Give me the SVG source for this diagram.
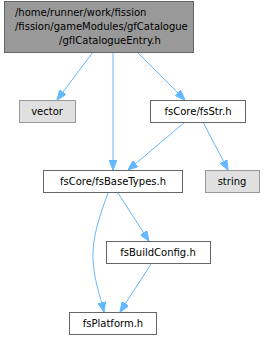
<svg xmlns="http://www.w3.org/2000/svg" width="265" height="340" viewBox="0 0 265 340">
<style>
text{font-family:"DejaVu Sans",sans-serif;font-size:10px;fill:#000}
.m{text-anchor:middle}
.top{fill:#999999;stroke:#666666}
.grey{fill:#e0e0e0;stroke:#999999}
.white{fill:#ffffff;stroke:#666666}
.e{fill:none;stroke:#63b8ff;stroke-width:1}
</style>
<defs>
<marker id="ah" markerWidth="10" markerHeight="8" refX="10" refY="4" orient="auto" markerUnits="userSpaceOnUse">
<path d="M0,0 L10,4 L0,8 Z" fill="#63b8ff" stroke="#63b8ff"/>
</marker>
</defs>
<rect width="265" height="340" fill="#ffffff"/>
<g id="connectors">
<path class="e" d="M93,52 L57,100" marker-end="url(#ah)"/>
<path class="e" d="M113,52 L113,170" marker-end="url(#ah)"/>
<path class="e" d="M137,52 L185,100" marker-end="url(#ah)"/>
<path class="e" d="M185,122 L128,170" marker-end="url(#ah)"/>
<path class="e" d="M203,122 L228,170" marker-end="url(#ah)"/>
<path class="e" d="M118,193 L149,241" marker-end="url(#ah)"/>
<path class="e" d="M108,193 C98,220 92,240 93,260 C94,280 100,295 104,312" marker-end="url(#ah)"/>
<path class="e" d="M151,264 L120,312" marker-end="url(#ah)"/>
</g>
<g id="node1">
<rect class="top" x="4.5" y="1.5" width="189" height="51"/>
<text x="15" y="16">/home/runner/work/fission</text>
<text x="15" y="30">/fission/gameModules/gfCatalogue</text>
<text class="m" x="110" y="44">/gfICatalogueEntry.h</text>
</g>
<g id="node2">
<rect class="grey" x="19.5" y="100.5" width="56" height="22"/>
<text class="m" x="47" y="115">vector</text>
</g>
<g id="node3">
<rect class="white" x="150.5" y="100.5" width="95" height="22"/>
<text class="m" x="198" y="115">fsCore/fsStr.h</text>
</g>
<g id="node4">
<rect class="white" x="43.5" y="170.5" width="139" height="22"/>
<text class="m" x="113" y="185">fsCore/fsBaseTypes.h</text>
</g>
<g id="node5">
<rect class="grey" x="205.5" y="170.5" width="54" height="22"/>
<text class="m" x="232" y="185">string</text>
</g>
<g id="node6">
<rect class="white" x="106.5" y="241.5" width="104" height="22"/>
<text class="m" x="158" y="256">fsBuildConfig.h</text>
</g>
<g id="node7">
<rect class="white" x="69.5" y="312.5" width="87" height="22"/>
<text class="m" x="113" y="327">fsPlatform.h</text>
</g>
</svg>
